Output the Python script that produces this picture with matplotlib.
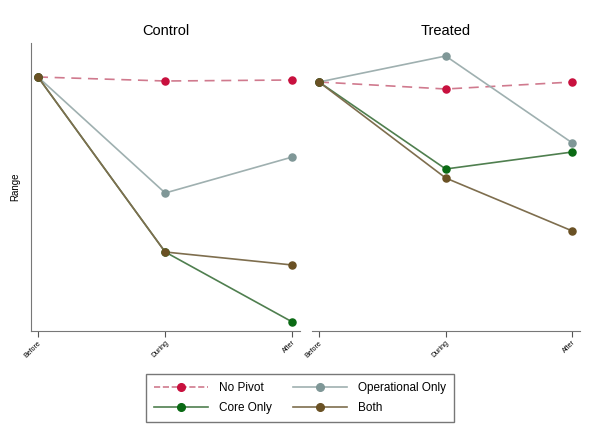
import matplotlib
matplotlib.use("Agg")
import matplotlib.pyplot as plt
from matplotlib.lines import Line2D

plt.rcParams["font.family"] = ["Liberation Sans", "DejaVu Sans"]

perioder = ["Before", "During", "After"]
x = [0, 1, 2]

# Control
ctrl_no_pivot = [2.54, 2.50, 2.51]
ctrl_operational = [2.54, 1.38, 1.74]
ctrl_core = [2.54, 0.79, 0.09]
ctrl_both = [2.54, 0.79, 0.66]

# Treated
treat_no_pivot = [2.49, 2.42, 2.49]
treat_operational = [2.49, 2.75, 1.88]
treat_core = [2.49, 1.62, 1.79]
treat_both = [2.49, 1.53, 1.00]

serier = ["No Pivot", "Operational Only", "Core Only", "Both"]
linjefarg = ["#d07a8e", "#9fb0b0", "#4f7f4f", "#7e6e4e"]
punktfarg = ["#c8103e", "#7f9797", "#0a6a14", "#6a5124"]
stil = ["--", "-", "-", "-"]

fig = plt.figure(figsize=(5.9, 4.4), dpi=100)
ax1 = fig.add_axes([31/590, 1-331/440, 269/590, 288/440])
ax2 = fig.add_axes([312/590, 1-331/440, 268/590, 288/440])

data = {
    ax1: [ctrl_no_pivot, ctrl_operational, ctrl_core, ctrl_both],
    ax2: [treat_no_pivot, treat_operational, treat_core, treat_both],
}

for ax, titel in [(ax1, "Control"), (ax2, "Treated")]:
    for i in range(4):
        ax.plot(x, data[ax][i], linestyle=stil[i], color=linjefarg[i], lw=1.2,
                dashes=(6, 4) if stil[i] == "--" else (None, None), zorder=2)
        ax.scatter(x, data[ax][i], s=26, color=punktfarg[i], zorder=3)
    ax.set_xlim(-0.055, 2.06)
    ax.set_ylim(0, 2.88)
    ax.set_xticks(x)
    ax.set_xticklabels(perioder, rotation=45, ha="right", rotation_mode="anchor",
                       fontsize=5)
    ax.set_yticks([])
    ax.set_title(titel, fontsize=10.5, pad=6)
    for s in ["top", "right"]:
        ax.spines[s].set_visible(False)
    ax.spines["bottom"].set_color("#777777")
    ax.spines["left"].set_color("#777777")
    ax.tick_params(axis="x", length=4, color="#555555", pad=2)

ax2.spines["left"].set_visible(False)
ax1.set_ylabel("Range", fontsize=7, labelpad=8)

handles = [Line2D([0], [0], linestyle=stil[i], color=linjefarg[i], lw=1.2,
                  marker="o", markersize=5.5, markerfacecolor=punktfarg[i],
                  markeredgecolor=punktfarg[i]) for i in range(4)]
# legenden fylls kolumnvis, så ordningen byts för att få radvis ordning
ordning = [0, 2, 1, 3]
leg = fig.legend([handles[i] for i in ordning], [serier[i] for i in ordning],
                 loc="center", bbox_to_anchor=(300/590, 1-398/440),
                 ncol=2, fontsize=8.5, frameon=True, fancybox=False,
                 handlelength=4.6, columnspacing=1.8, handletextpad=0.9,
                 borderpad=0.7, labelspacing=0.7)
leg.get_frame().set_edgecolor("#555555")
leg.get_frame().set_linewidth(1.0)

fig.savefig("out.png", dpi=100)
